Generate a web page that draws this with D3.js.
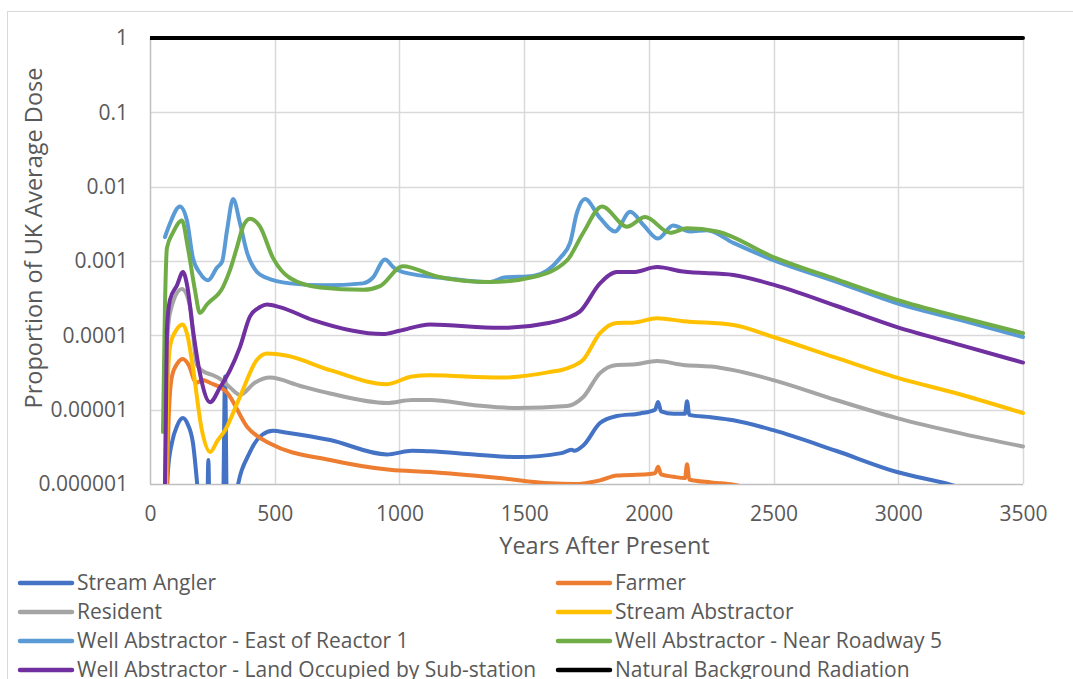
<!DOCTYPE html>
<html>

<head>
    <meta charset="utf-8">
    <title>Proportion of UK Average Dose</title>
    <script src="https://d3js.org/d3.v7.min.js"></script>
    <style>
        body { margin: 0; background: #fff; }
        text { font-family: "Open Sans", Lato, sans-serif; fill: #595959; }
    </style>
</head>

<body>
    <script type="text/javascript">
        // [years after present, proportion of UK average dose]
        const streamAngler = [[62, 2e-7], [72, 1.5e-6], [88, 3.6e-6], [108, 6e-6], [132, 7.7e-6], [150, 6.5e-6],
            [172, 3.6e-6], [195, 6e-7], [215, 1e-7], [228, 2e-7], [234, 2.1e-6], [240, 2e-7], [260, 1e-7],
            [292, 3e-7], [301, 2.8e-5], [309, 3e-7], [325, 2e-7], [345, 7e-7], [401, 2.7e-6], [450, 4.6e-6],
            [493, 5.2e-6], [550, 4.9e-6], [722, 3.9e-6], [950, 2.5e-6], [1050, 2.8e-6], [1123, 2.75e-6],
            [1300, 2.5e-6], [1471, 2.3e-6], [1650, 2.6e-6], [1690, 2.9e-6], [1700, 2.8e-6], [1737, 3.3e-6],
            [1804, 6.6e-6], [1872, 8.2e-6], [1965, 8.9e-6], [2025, 1.0e-5], [2037, 1.27e-5], [2049, 9.5e-6],
            [2100, 8.8e-6], [2145, 8.8e-6], [2153, 1.3e-5], [2162, 8.5e-6], [2250, 7.9e-6], [2339, 7.2e-6],
            [2499, 5.3e-6], [2750, 2.8e-6], [2995, 1.45e-6], [3200, 1e-6], [3500, 4.5e-7]];
        const farmer = [[62, 2e-7], [75, 8e-6], [88, 2.8e-5], [110, 4.2e-5], [132, 4.8e-5], [155, 4e-5],
            [185, 2.3e-5], [212, 2.5e-5], [240, 2.3e-5], [309, 1.7e-5], [389, 5.9e-6], [481, 3.5e-6],
            [722, 2.1e-6], [962, 1.55e-6], [1123, 1.45e-6], [1403, 1.2e-6], [1604, 1.02e-6], [1700, 1.0e-6],
            [1804, 1.12e-6], [1872, 1.3e-6], [1993, 1.35e-6], [2025, 1.4e-6], [2037, 1.7e-6], [2049, 1.35e-6],
            [2100, 1.25e-6], [2145, 1.2e-6], [2153, 1.85e-6], [2162, 1.15e-6], [2250, 1.05e-6],
            [2339, 9.8e-7], [2450, 8e-7], [3000, 2.5e-7], [3500, 1e-7]];
        const resident = [[60, 3e-7], [66, 5e-5], [80, 2e-4], [128, 4.2e-4], [160, 2.5e-4], [188, 4e-5],
            [212, 3.3e-5], [253, 2.9e-5], [281, 2.6e-5], [320, 2e-5], [361, 1.58e-5], [420, 2.3e-5],
            [481, 2.7e-5], [600, 2.1e-5], [722, 1.65e-5], [950, 1.23e-5], [1050, 1.35e-5], [1123, 1.35e-5],
            [1300, 1.15e-5], [1471, 1.05e-5], [1672, 1.12e-5], [1737, 1.48e-5], [1804, 3.1e-5], [1872, 4e-5],
            [1937, 4.05e-5], [2033, 4.5e-5], [2137, 4e-5], [2250, 3.8e-5], [2339, 3.4e-5], [2499, 2.5e-5],
            [2750, 1.35e-5], [2995, 7.7e-6], [3250, 4.8e-6], [3500, 3.2e-6]];
        const streamAbstractor = [[62, 3e-7], [68, 1e-5], [80, 7e-5], [100, 1.1e-4], [132, 1.4e-4],
            [150, 1.0e-4], [172, 3.7e-5], [208, 5.3e-6], [241, 2.7e-6], [270, 3.8e-6], [301, 5.3e-6],
            [361, 1.5e-5], [429, 4.7e-5], [469, 5.7e-5], [550, 5.3e-5], [722, 3.4e-5], [950, 2.2e-5],
            [1050, 2.8e-5], [1123, 2.9e-5], [1403, 2.7e-5], [1600, 3.2e-5], [1672, 3.6e-5], [1737, 4.7e-5],
            [1804, 1.07e-4], [1872, 1.47e-4], [1937, 1.48e-4], [2033, 1.7e-4], [2137, 1.55e-4],
            [2339, 1.38e-4], [2499, 9.5e-5], [2750, 5e-5], [2995, 2.7e-5], [3250, 1.6e-5], [3500, 9e-6]];
        const wellEastReactor = [[60, 2.1e-3], [80, 3.2e-3], [120, 5.4e-3], [148, 3.5e-3], [172, 1.1e-3],
            [200, 6.9e-4], [233, 5.5e-4], [268, 8.1e-4], [289, 9.8e-4], [309, 2.6e-3], [333, 6.8e-3],
            [361, 3.2e-3], [389, 1.3e-3], [429, 7.1e-4], [469, 5.9e-4], [561, 5e-4], [700, 4.7e-4],
            [854, 5e-4], [894, 6e-4], [942, 1.05e-3], [980, 8e-4], [1014, 7.1e-4], [1200, 5.8e-4],
            [1363, 5.2e-4], [1420, 6e-4], [1536, 6.3e-4], [1644, 1.1e-3], [1684, 1.75e-3], [1712, 4.5e-3],
            [1744, 6.8e-3], [1804, 3.8e-3], [1864, 2.5e-3], [1925, 4.6e-3], [1980, 3e-3], [2037, 2e-3],
            [2097, 3e-3], [2165, 2.5e-3], [2233, 2.6e-3], [2339, 1.75e-3], [2499, 1.03e-3], [2750, 5.3e-4],
            [2995, 2.7e-4], [3250, 1.6e-4], [3500, 9.5e-5]];
        const wellRoadway = [[52, 5e-6], [60, 2.5e-4], [68, 1.5e-3], [92, 2.4e-3], [128, 3.5e-3],
            [152, 1.5e-3], [180, 4.1e-4], [200, 2e-4], [228, 2.6e-4], [293, 4.5e-4], [321, 7.6e-4],
            [348, 1.5e-3], [373, 2.9e-3], [401, 3.7e-3], [441, 2.9e-3], [493, 1.1e-3], [561, 5.9e-4],
            [682, 4.4e-4], [854, 4.1e-4], [922, 4.6e-4], [1014, 8.5e-4], [1150, 6.2e-4], [1363, 5.2e-4],
            [1536, 6.1e-4], [1672, 1.02e-3], [1737, 2.4e-3], [1812, 5.4e-3], [1912, 2.9e-3], [1985, 3.9e-3],
            [2085, 2.4e-3], [2153, 2.75e-3], [2273, 2.5e-3], [2499, 1.13e-3], [2750, 5.7e-4], [2995, 3e-4],
            [3250, 1.75e-4], [3500, 1.07e-4]];
        const wellSubstation = [[58, 3e-7], [64, 1e-5], [68, 1.2e-4], [80, 3e-4], [108, 4.7e-4], [132, 7.1e-4],
            [150, 4.5e-4], [172, 1.2e-4], [200, 3.1e-5], [241, 1.26e-5], [281, 2e-5], [321, 3.4e-5],
            [361, 7e-5], [401, 1.8e-4], [441, 2.4e-4], [469, 2.6e-4], [520, 2.4e-4], [654, 1.6e-4],
            [934, 1.04e-4], [1000, 1.15e-4], [1123, 1.4e-4], [1403, 1.26e-4], [1604, 1.48e-4], [1680, 1.75e-4],
            [1724, 2.1e-4], [1804, 5e-4], [1872, 7.1e-4], [1937, 7.1e-4], [2033, 8.3e-4], [2137, 7.2e-4],
            [2339, 6.5e-4], [2499, 4.8e-4], [2750, 2.5e-4], [2995, 1.29e-4], [3250, 7.4e-5], [3500, 4.3e-5]];
        const background = [[0, 1], [3500, 1]];

        const seriesNames = ["Stream Angler", "Farmer", "Resident", "Stream Abstractor",
            "Well Abstractor - East of Reactor 1", "Well Abstractor - Near Roadway 5",
            "Well Abstractor - Land Occupied by Sub-station", "Natural Background Radiation"];
        const seriesData = [streamAngler, farmer, resident, streamAbstractor,
            wellEastReactor, wellRoadway, wellSubstation, background];
        const colors = ["#4472C4", "#ED7D31", "#A5A5A5", "#FFC000", "#5B9BD5", "#70AD47", "#7030A0", "#000000"];

        const xTicks = [0, 500, 1000, 1500, 2000, 2500, 3000, 3500];
        const yTicks = [1e-6, 1e-5, 1e-4, 1e-3, 1e-2, 1e-1, 1];
        const yTickLabels = ["0.000001", "0.00001", "0.0001", "0.001", "0.01", "0.1", "1"];

        const W = 1073, H = 679;
        const plot = { left: 150, top: 38, right: 1023, bottom: 484 };

        const svg = d3.select("body").append("svg")
            .attr("width", W)
            .attr("height", H);

        // chart frame
        svg.append("rect")
            .attr("x", 7.5).attr("y", 11.5)
            .attr("width", W + 10).attr("height", H + 10)
            .attr("fill", "none")
            .attr("stroke", "#d9d9d9");

        const x = d3.scaleLinear().domain([0, 3500]).range([plot.left, plot.right]);
        const y = d3.scaleLog().domain([1e-6, 1]).range([plot.bottom, plot.top]);

        // grid
        svg.append("g")
            .selectAll("line.gx")
            .data(xTicks.slice(1))
            .join("line")
            .attr("x1", d => Math.round(x(d)) + 0.5).attr("x2", d => Math.round(x(d)) + 0.5)
            .attr("y1", plot.top).attr("y2", plot.bottom)
            .attr("stroke", "#d9d9d9").attr("stroke-width", 1.5);
        svg.append("g")
            .selectAll("line.gy")
            .data(yTicks.slice(1))
            .join("line")
            .attr("x1", plot.left).attr("x2", plot.right)
            .attr("y1", d => Math.round(y(d)) + 0.5).attr("y2", d => Math.round(y(d)) + 0.5)
            .attr("stroke", "#d9d9d9").attr("stroke-width", 1.5);

        // axes lines
        svg.append("line")
            .attr("x1", plot.left).attr("x2", plot.right)
            .attr("y1", plot.bottom + 0.5).attr("y2", plot.bottom + 0.5)
            .attr("stroke", "#bfbfbf").attr("stroke-width", 1.5);
        svg.append("line")
            .attr("x1", plot.left + 0.5).attr("x2", plot.left + 0.5)
            .attr("y1", plot.top).attr("y2", plot.bottom)
            .attr("stroke", "#bfbfbf").attr("stroke-width", 1.5);

        // tick labels via d3 axes
        const xAxis = svg.append("g")
            .attr("transform", "translate(0," + plot.bottom + ")")
            .call(d3.axisBottom(x).tickValues(xTicks).tickSize(0).tickPadding(22).tickFormat(d3.format("d")));
        const yAxis = svg.append("g")
            .attr("transform", "translate(" + plot.left + ",0)")
            .call(d3.axisLeft(y).tickValues(yTicks).tickSize(0).tickPadding(22)
                .tickFormat((d, i) => yTickLabels[i]));
        [xAxis, yAxis].forEach(g => {
            g.select(".domain").remove();
            g.selectAll("text").attr("font-size", 21).style("fill", "#595959")
                .style("font-family", "'Open Sans', Lato, sans-serif");
        });

        // axis titles
        svg.append("text")
            .attr("x", (plot.left + plot.right) / 2 + 18).attr("y", 554)
            .attr("text-anchor", "middle")
            .attr("font-size", 23.5)
            .text("Years After Present");
        svg.append("text")
            .attr("transform", "translate(42," + 238 + ") rotate(-90)")
            .attr("text-anchor", "middle")
            .attr("font-size", 23.5)
            .text("Proportion of UK Average Dose");

        // lines
        svg.append("clipPath").attr("id", "clip")
            .append("rect")
            .attr("x", plot.left).attr("y", plot.top - 4)
            .attr("width", plot.right - plot.left + 2).attr("height", plot.bottom - plot.top + 4);

        const line = d3.line()
            .x(d => x(d[0]))
            .y(d => y(d[1]))
            .curve(d3.curveMonotoneX);

        svg.append("g")
            .attr("clip-path", "url(#clip)")
            .selectAll("path")
            .data(seriesData)
            .join("path")
            .attr("d", line)
            .attr("fill", "none")
            .attr("stroke", (d, i) => colors[i])
            .attr("stroke-width", 4)
            .attr("stroke-linejoin", "round")
            .attr("stroke-linecap", "round");

        // legend
        const legend = svg.append("g");
        const legendItems = legend.selectAll("g")
            .data(seriesNames)
            .join("g")
            .attr("transform", (d, i) => "translate(" + (i % 2 === 0 ? 20 : 558) + "," + (583 + Math.floor(i / 2) * 29) + ")");
        legendItems.append("line")
            .attr("x1", 0).attr("x2", 52)
            .attr("stroke", (d, i) => colors[i])
            .attr("stroke-width", 4.5)
            .attr("stroke-linecap", "round");
        legendItems.append("text")
            .attr("x", 57).attr("dy", "0.35em")
            .attr("font-size", 21)
            .text(d => d);
    </script>
</body>

</html>
